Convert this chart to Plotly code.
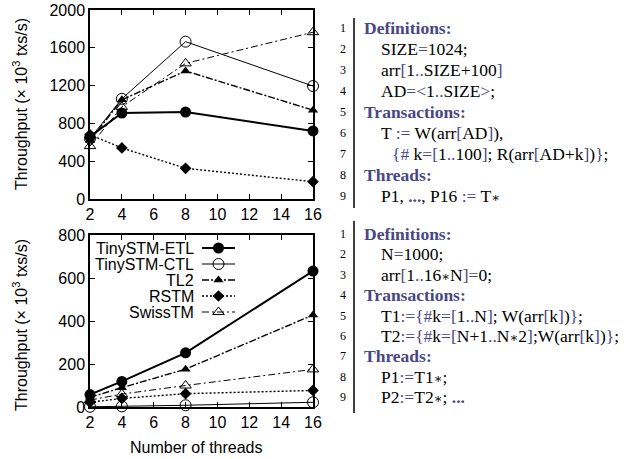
import plotly.graph_objects as go

# ---------------- data ----------------
threads = [2, 4, 8, 16]
series_names = ["TinySTM-ETL", "TinySTM-CTL", "TL2", "RSTM", "SwissTM"]

top_etl = [660, 910, 920, 720]
top_ctl = [640, 1060, 1665, 1195]
top_tl2 = [620, 1050, 1355, 940]
top_rstm = [680, 540, 325, 183]
top_swiss = [560, 975, 1435, 1765]

bot_etl = [58, 119, 252, 632]
bot_ctl = [1, 3, 8, 22]
bot_tl2 = [45, 90, 176, 428]
bot_rstm = [22, 40, 62, 77]
bot_swiss = [32, 60, 100, 175]

x_ticks = [2, 4, 6, 8, 10, 12, 14, 16]
top_y_ticks = [0, 400, 800, 1200, 1600, 2000]
bot_y_ticks = [0, 200, 400, 600, 800]

y_title = "Throughput (\u00d7 10<sup>3</sup> txs/s)"
x_title = "Number of threads"

KW = "#474785"
STAR = '<span style="font-family:DejaVu Serif;font-size:13px">\u2217</span>'


def c(s):
    return '<span style="color:%s">%s</span>' % (KW, s)


def h(s):
    return '<span style="color:%s"><b>%s</b></span>' % (KW, s)


top_code = [
    (0, h("Definitions:")),
    (1, "SIZE" + c("=") + "1024;"),
    (1, "arr" + c("[") + "1" + c("..") + "SIZE+100" + c("]")),
    (1, "AD" + c("=&lt;") + "1" + c("..") + "SIZE" + c("&gt;") + ";"),
    (0, h("Transactions:")),
    (1, "T " + c(":=") + " W(arr" + c("[") + "AD" + c("]") + "),"),
    (2, c("{#") + " k" + c("=[") + "1" + c("..") + "100" + c("]") + "; R(arr" + c("[") + "AD+k" + c("]") + ")" + c("}") + ";"),
    (0, h("Threads:")),
    (1, "P1, " + c("<b>...</b>") + ", P16 " + c(":=") + " T" + STAR),
]
bot_code = [
    (0, h("Definitions:")),
    (1, "N" + c("=") + "1000;"),
    (1, "arr" + c("[") + "1" + c("..") + "16" + STAR + "N" + c("]=") + "0;"),
    (0, h("Transactions:")),
    (1, "T1" + c(":={#") + "k" + c("=[") + "1" + c("..") + "N" + c("]") + "; W(arr" + c("[") + "k" + c("]") + ")" + c("}") + ";"),
    (1, "T2" + c(":={#") + "k" + c("=[") + "N+1" + c("..") + "N" + STAR + "2" + c("]") + ";W(arr" + c("[") + "k" + c("]") + ")" + c("}") + ";"),
    (0, h("Threads:")),
    (1, "P1" + c(":=") + "T1" + STAR + ";"),
    (1, "P2" + c(":=") + "T2" + STAR + "; " + c("<b>...</b>")),
]

# ---------------- layout helpers ----------------
W, H = 632, 459


def px(x):
    return x / W


def py(y):
    return 1 - y / H


SANS = "Liberation Sans, Arial, sans-serif"
SERIF = "Liberation Serif, Times New Roman, serif"

styles = {
    "TinySTM-ETL": dict(line=dict(color="black", width=2, dash="solid"),
                        marker=dict(symbol="circle", size=11, color="black")),
    "TinySTM-CTL": dict(line=dict(color="black", width=1, dash="solid"),
                        marker=dict(symbol="circle-open", size=11, color="black", line=dict(width=1))),
    "TL2": dict(line=dict(color="black", width=1.4, dash="7px,2px,2px,2px"),
                marker=dict(symbol="triangle-up", size=9, color="black")),
    "RSTM": dict(line=dict(color="black", width=1.4, dash="2px,2px"),
                 marker=dict(symbol="diamond", size=9, color="black")),
    "SwissTM": dict(line=dict(color="black", width=1, dash="7px,3px,2px,3px"),
                    marker=dict(symbol="triangle-up-open", size=10, color="black", line=dict(width=1))),
}

fig = go.Figure()

top_vals = [top_etl, top_ctl, top_tl2, top_rstm, top_swiss]
bot_vals = [bot_etl, bot_ctl, bot_tl2, bot_rstm, bot_swiss]

for name, vals in zip(series_names, top_vals):
    fig.add_trace(go.Scatter(x=threads, y=vals, mode="lines+markers", name=name,
                             xaxis="x", yaxis="y", showlegend=False, cliponaxis=False,
                             **styles[name]))
for name, vals in zip(series_names, bot_vals):
    fig.add_trace(go.Scatter(x=threads, y=vals, mode="lines+markers", name=name,
                             xaxis="x2", yaxis="y2", showlegend=False, cliponaxis=False,
                             **styles[name]))

# custom legend (text right-aligned, sample on the right) in pixel overlay axes
leg_text_right = 196
leg_sample = (202, 235)
leg_rows = [248, 264, 280, 296, 312]
annotations = []
for name, ry in zip(series_names, leg_rows):
    mid = (leg_sample[0] + leg_sample[1]) / 2
    fig.add_trace(go.Scatter(x=[leg_sample[0], mid, leg_sample[1]],
                             y=[ry] * 3, mode="lines", xaxis="x3", yaxis="y3",
                             showlegend=False, line=styles[name]["line"], hoverinfo="skip"))
    fig.add_trace(go.Scatter(x=[mid], y=[ry], mode="markers",
                             xaxis="x3", yaxis="y3", showlegend=False,
                             marker=styles[name]["marker"], hoverinfo="skip"))
    annotations.append(dict(x=px(leg_text_right), y=py(ry), xref="paper", yref="paper",
                            text=name, showarrow=False, xanchor="right", yanchor="middle",
                            font=dict(family=SANS, size=16, color="black")))

axis_common = dict(showline=True, linecolor="black", linewidth=1.5, mirror="ticks",
                   ticks="inside", ticklen=5, tickwidth=1, tickcolor="black",
                   showgrid=False, zeroline=False, automargin=False,
                   tickfont=dict(family=SANS, size=16, color="black"))

fig.update_layout(
    width=W, height=H,
    margin=dict(l=0, r=0, t=0, b=0),
    paper_bgcolor="white", plot_bgcolor="rgba(0,0,0,0)",
    showlegend=False,
    xaxis=dict(domain=[px(90), px(313)], anchor="y", range=[2, 16], tickvals=x_ticks, **axis_common),
    yaxis=dict(domain=[py(199), py(10)], anchor="x", range=[0, 2000], tickvals=top_y_ticks, **axis_common),
    xaxis2=dict(domain=[px(90), px(313)], anchor="y2", range=[2, 16], tickvals=x_ticks, **axis_common),
    yaxis2=dict(domain=[py(407), py(235)], anchor="x2", range=[0, 800], tickvals=bot_y_ticks, **axis_common),
    xaxis3=dict(domain=[0, 1], anchor="y3", range=[0, W], visible=False, fixedrange=True),
    yaxis3=dict(domain=[0, 1], anchor="x3", range=[H, 0], visible=False, fixedrange=True),
)

# axis titles
annotations.append(dict(x=px(20), y=py(104), xref="paper", yref="paper", text=y_title,
                        textangle=-90, showarrow=False, xanchor="center", yanchor="middle",
                        font=dict(family=SANS, size=16, color="black")))
annotations.append(dict(x=px(20), y=py(325), xref="paper", yref="paper", text=y_title,
                        textangle=-90, showarrow=False, xanchor="center", yanchor="middle",
                        font=dict(family=SANS, size=16, color="black")))
annotations.append(dict(x=px(196), y=py(447), xref="paper", yref="paper", text=x_title,
                        showarrow=False, xanchor="center", yanchor="middle",
                        font=dict(family=SANS, size=16, color="black")))

# code listings
indent_x = [362, 379, 390]
num_right = 348
bar_x = 354
shapes = []


def add_listing(lines, y0, dy, bar_top, bar_bot):
    for i, (ind, txt) in enumerate(lines):
        yy = y0 + i * dy
        annotations.append(dict(x=px(num_right), y=py(yy), xref="paper", yref="paper",
                                text=str(i + 1), showarrow=False, xanchor="right", yanchor="middle",
                                font=dict(family=SERIF, size=12, color="black")))
        annotations.append(dict(x=px(indent_x[ind]), y=py(yy), xref="paper", yref="paper",
                                text=txt, showarrow=False, xanchor="left", yanchor="middle",
                                font=dict(family=SERIF, size=17.5, color="black")))
    shapes.append(dict(type="line", xref="paper", yref="paper", x0=px(bar_x), x1=px(bar_x),
                       y0=py(bar_top), y1=py(bar_bot), line=dict(color="black", width=1.5)))


add_listing(top_code, 28, 21, 18, 208)
add_listing(bot_code, 234, 20.4, 221, 413)

fig.update_layout(annotations=annotations, shapes=shapes)

# the default page body has an 8px margin; remove it so the figure fills the window exactly
fig.write_html("out.html", config={"displayModeBar": False},
               post_script="document.body.style.margin='0px';")
